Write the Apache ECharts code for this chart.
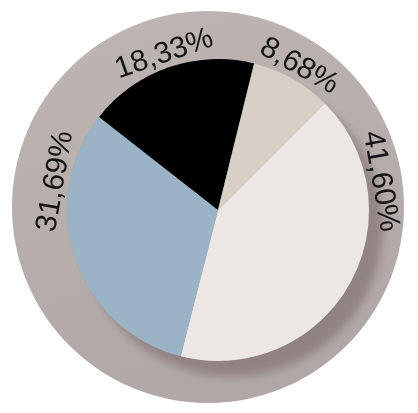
<!DOCTYPE html>
<html>
<head>
<meta charset="utf-8">
<script src="https://cdn.jsdelivr.net/npm/echarts@6/dist/echarts.min.js"></script>
<style>
  html, body { margin: 0; padding: 0; background: #ffffff; }
  #chart { width: 418px; height: 413px; }
</style>
</head>
<body>
<div id="chart"></div>
<script>
// Shares of the four groups, in drawing order (clockwise)
const categories = ['A', 'B', 'C', 'D'];
const shares = [41.60, 31.69, 18.33, 8.68];
const shareLabels = ['41,60%', '31,69%', '18,33%', '8,68%'];

const sliceColors = ['#ece6e5', '#9ab4c6', '#000000', '#d6d0c6'];

const W = 418, H = 413;
const pieCenter = [218, 210];
const pieRadius = 151;
const ringCenter = [208, 207];
const ringRadius = 196;
const startAngle = 45;          // degrees, ECharts convention (counter-clockwise from 3 o'clock)
const labelRadius = 165;

// Label angles follow the slice middles, but stay on the upper arc
// (between -80 and +80 degrees clockwise from 12 o'clock).
const total = shares.reduce((a, b) => a + b, 0);
let acc = 90 - startAngle;      // clockwise from 12 o'clock
const labelGraphics = shares.map((v, i) => {
  const sweep = v / total * 360;
  let mid = acc + sweep / 2;
  acc += sweep;
  mid = ((mid % 360) + 360) % 360;
  if (mid > 80 && mid < 280) mid = (mid < 180) ? 80 : 280;
  const a = mid * Math.PI / 180;
  const x = pieCenter[0] + labelRadius * Math.sin(a);
  const y = pieCenter[1] - labelRadius * Math.cos(a);
  const rot = mid > 180 ? mid - 360 : mid;
  return {
    type: 'text',
    x: x, y: y,
    rotation: -rot * Math.PI / 180,
    z: 100,
    style: {
      text: shareLabels[i],
      x: 0, y: 0,
      align: 'center',
      verticalAlign: 'middle',
      fill: '#151515',
      font: '30px "Liberation Sans", Arial, sans-serif'
    }
  };
});

const chart = echarts.init(document.getElementById('chart'), null, { renderer: 'canvas', width: W, height: H });

chart.setOption({
  animation: false,
  backgroundColor: '#ffffff',
  graphic: labelGraphics,
  series: [
    {
      // outer ring disc
      type: 'pie',
      silent: true,
      z: 1,
      center: ringCenter,
      radius: [0, ringRadius],
      label: { show: false },
      labelLine: { show: false },
      itemStyle: {
        color: {
          type: 'linear', x: 0, y: 0, x2: 0.3, y2: 1,
          colorStops: [
            { offset: 0, color: '#bdb6b2' },
            { offset: 1, color: '#b0a8a6' }
          ]
        }
      },
      data: [{ value: 1, name: 'ring' }]
    },
    {
      // darker offset shade under the pie
      type: 'pie',
      silent: true,
      z: 2,
      center: pieCenter,
      radius: [0, pieRadius],
      label: { show: false },
      labelLine: { show: false },
      itemStyle: {
        color: '#a59c9b',
        shadowColor: 'rgba(120,100,102,0.55)',
        shadowBlur: 8,
        shadowOffsetX: 14,
        shadowOffsetY: 16
      },
      data: [{ value: 1, name: 'shade' }]
    },
    {
      type: 'pie',
      z: 3,
      center: pieCenter,
      radius: [0, pieRadius],
      startAngle: startAngle,
      clockwise: true,
      label: { show: false },
      labelLine: { show: false },
      itemStyle: { borderWidth: 0 },
      data: categories.map((c, i) => ({
        name: c,
        value: shares[i],
        itemStyle: { color: sliceColors[i] }
      }))
    }
  ]
});
</script>
</body>
</html>
